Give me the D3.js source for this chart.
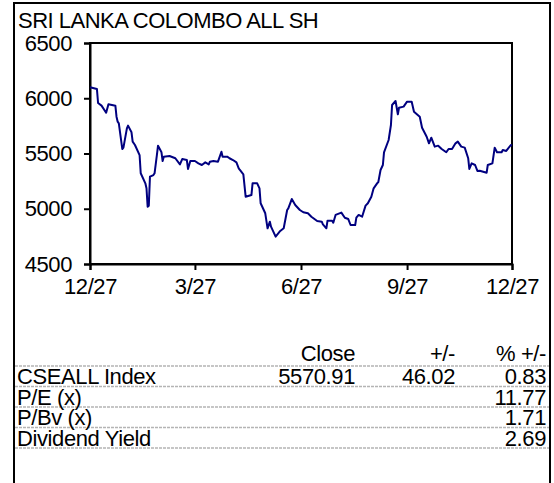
<!DOCTYPE html>
<html>
<head>
<meta charset="utf-8">
<script src="https://cdn.jsdelivr.net/npm/d3@7/dist/d3.min.js"></script>
<style>
  html, body { margin: 0; padding: 0; background: #fff; }
  svg { display: block; }
  text { font-family: "Liberation Sans", Arial, sans-serif; fill: #000; }
</style>
</head>
<body>
<svg id="chart" width="554" height="483"></svg>
<script>
// ---------------- DATA ----------------
const title = "SRI LANKA COLOMBO ALL SH";

const dates = [
  "2011-12-27","2012-01-02","2012-01-03","2012-01-06","2012-01-10","2012-01-12","2012-01-18","2012-01-19",
  "2012-01-20","2012-01-21","2012-01-24","2012-01-25","2012-01-28","2012-01-29","2012-02-01","2012-02-02",
  "2012-02-04","2012-02-08","2012-02-09","2012-02-13","2012-02-14","2012-02-15","2012-02-16","2012-02-17",
  "2012-02-20","2012-02-21","2012-02-23","2012-02-24","2012-02-27","2012-02-28","2012-02-29","2012-03-05",
  "2012-03-10","2012-03-14","2012-03-16","2012-03-20","2012-03-21","2012-03-23","2012-03-27","2012-03-30",
  "2012-04-02","2012-04-05","2012-04-08","2012-04-09","2012-04-12","2012-04-16","2012-04-19","2012-04-20",
  "2012-04-24","2012-04-26","2012-04-29","2012-05-02","2012-05-04","2012-05-05","2012-05-08","2012-05-10",
  "2012-05-15","2012-05-16","2012-05-20","2012-05-22","2012-05-23","2012-05-27","2012-05-29","2012-05-31",
  "2012-06-01","2012-06-05","2012-06-09","2012-06-12","2012-06-15","2012-06-16","2012-06-19","2012-06-22",
  "2012-06-26","2012-06-29","2012-07-03","2012-07-06","2012-07-11","2012-07-15","2012-07-16","2012-07-19",
  "2012-07-20","2012-07-24","2012-07-25","2012-07-27","2012-08-01","2012-08-04","2012-08-07","2012-08-09",
  "2012-08-13","2012-08-14","2012-08-16","2012-08-19","2012-08-22","2012-08-24","2012-08-27","2012-08-29",
  "2012-09-01","2012-09-02","2012-09-04","2012-09-06","2012-09-07","2012-09-11","2012-09-13","2012-09-14",
  "2012-09-17","2012-09-19","2012-09-20","2012-09-24","2012-09-27","2012-10-01","2012-10-03","2012-10-08",
  "2012-10-10","2012-10-14","2012-10-16","2012-10-18","2012-10-21","2012-10-24","2012-10-27","2012-10-31",
  "2012-11-02","2012-11-05","2012-11-08","2012-11-10","2012-11-13","2012-11-16","2012-11-19","2012-11-20",
  "2012-11-22","2012-11-25","2012-11-27","2012-11-29","2012-12-02","2012-12-05","2012-12-06","2012-12-10",
  "2012-12-12","2012-12-14","2012-12-18","2012-12-19","2012-12-22","2012-12-26","2012-12-27"
];

const values = [
  6100,6084,5957,5933,5869,5945,5933,5833,
  5788,5773,5541,5553,5728,5752,5692,5607,
  5577,5486,5321,5230,5185,5019,5028,5290,
  5305,5321,5486,5571,5511,5432,5471,5477,
  5457,5402,5450,5441,5360,5432,5432,5411,
  5396,5420,5402,5426,5432,5426,5516,5471,
  5471,5457,5441,5420,5366,5351,5312,5109,
  5124,5230,5230,5185,5050,4959,4823,4883,
  4838,4747,4799,4823,4989,5004,5088,5034,
  4989,4968,4959,4928,4889,4883,4859,4823,
  4892,4892,4874,4944,4965,4919,4907,4853,
  4853,4919,4944,4928,5028,5050,5109,5185,
  5230,5239,5351,5396,5511,5622,5758,5939,
  5975,5855,5914,5924,5969,5969,5878,5833,
  5733,5652,5592,5643,5562,5571,5541,5511,
  5541,5541,5592,5607,5562,5553,5457,5360,
  5411,5396,5342,5344,5335,5326,5396,5411,
  5553,5511,5511,5532,5523,5577,5571
];

const yTicks = [4500, 5000, 5500, 6000, 6500];
const xTickDates = ["2011-12-27","2012-03-27","2012-06-27","2012-09-27","2012-12-27"];
const xTickLabels = ["12/27","3/27","6/27","9/27","12/27"];

const tableHeader = ["", "Close", "+/-", "% +/-"];
const rowLabels = ["CSEALL Index", "P/E (x)", "P/Bv (x)", "Dividend Yield"];
const closeVals = ["5570.91", "", "", ""];
const changeVals = ["46.02", "", "", ""];
const pctVals = ["0.83", "11.77", "1.71", "2.69"];

// ---------------- DRAW ----------------
const parse = d3.timeParse("%Y-%m-%d");
const svg = d3.select("#chart");
const FS = 22;
const LS = -0.4;

// outer frame
svg.append("rect")
  .attr("x", 14).attr("y", 3).attr("width", 536).attr("height", 484)
  .attr("fill", "none").attr("stroke", "#000").attr("stroke-width", 2);

svg.append("text")
  .attr("x", 18).attr("y", 28)
  .attr("font-size", FS).attr("letter-spacing", -0.5)
  .text(title);

const plot = { left: 90, right: 512, top: 43, bottom: 264 };

const x = d3.scaleTime()
  .domain([parse(dates[0]), parse(dates[dates.length - 1])])
  .range([plot.left, plot.right]);
const y = d3.scaleLinear()
  .domain([4500, 6500])
  .range([plot.bottom, plot.top]);

// plot frame
svg.append("rect")
  .attr("x", plot.left).attr("y", plot.top)
  .attr("width", plot.right - plot.left).attr("height", plot.bottom - plot.top)
  .attr("fill", "none").attr("stroke", "#000").attr("stroke-width", 2);

// y axis
const yAxis = svg.append("g")
  .attr("transform", `translate(${plot.left},0)`)
  .call(d3.axisLeft(y).tickValues(yTicks).tickSize(6).tickPadding(12).tickFormat(d3.format("d")));
yAxis.select(".domain").attr("stroke", "#000").attr("stroke-width", 2);
yAxis.selectAll(".tick line").attr("stroke", "#000").attr("stroke-width", 2);
yAxis.selectAll(".tick text").attr("font-size", FS).attr("font-family", null).attr("letter-spacing", LS);

// x axis
const xAxis = svg.append("g")
  .attr("transform", `translate(0,${plot.bottom})`)
  .call(d3.axisBottom(x).tickValues(xTickDates.map(parse)).tickSize(6).tickPadding(8)
    .tickFormat((d, i) => xTickLabels[i]));
xAxis.select(".domain").attr("stroke", "#000").attr("stroke-width", 2);
xAxis.selectAll(".tick line").attr("stroke", "#000").attr("stroke-width", 2);
xAxis.selectAll(".tick text").attr("font-size", FS).attr("font-family", null).attr("letter-spacing", LS);

// line
const series = dates.map((d, i) => ({ date: parse(d), value: values[i] }));
svg.append("path")
  .datum(series)
  .attr("fill", "none")
  .attr("stroke", "#000080")
  .attr("stroke-width", 2)
  .attr("stroke-linejoin", "round")
  .attr("d", d3.line().x(d => x(d.date)).y(d => y(d.value)));

// table
const colRight = [null, 355, 455, 546];
const headerBase = 361;
const rowH = 20.5;
const firstBase = 384;

tableHeader.forEach((h, j) => {
  if (!h) return;
  svg.append("text").attr("x", colRight[j]).attr("y", headerBase)
    .attr("text-anchor", "end").attr("font-size", FS).attr("letter-spacing", LS).text(h);
});

const lineYs = [366].concat(rowLabels.map((_, i) => 366 + (i + 1) * rowH));
lineYs.forEach(ly => {
  svg.append("line").attr("x1", 15).attr("x2", 549).attr("y1", ly).attr("y2", ly)
    .attr("stroke", "#b4b4b4").attr("stroke-width", 1.5).attr("stroke-dasharray", "3,1");
});

rowLabels.forEach((lab, i) => {
  const by = firstBase + i * rowH;
  svg.append("text").attr("x", 17).attr("y", by).attr("font-size", FS).attr("letter-spacing", LS).text(lab);
  [closeVals[i], changeVals[i], pctVals[i]].forEach((v, k) => {
    if (!v) return;
    svg.append("text").attr("x", colRight[k + 1]).attr("y", by)
      .attr("text-anchor", "end").attr("font-size", FS).attr("letter-spacing", LS).text(v);
  });
});
</script>
</body>
</html>
